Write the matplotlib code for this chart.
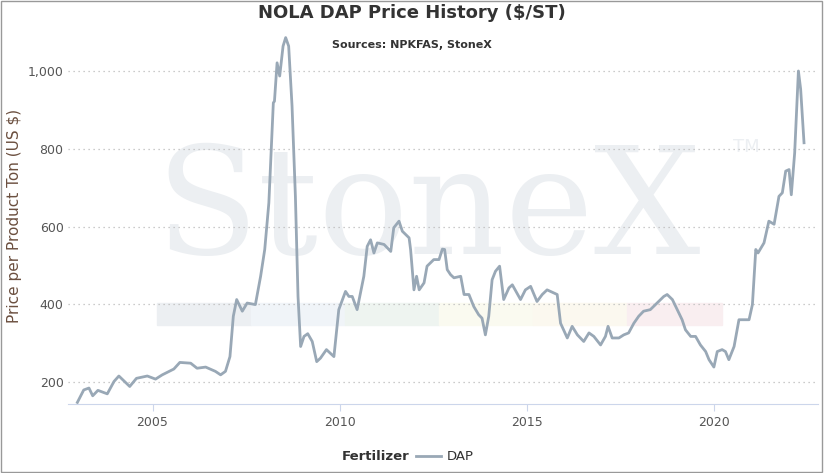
import matplotlib
matplotlib.use('Agg')
import matplotlib.pyplot as plt
from matplotlib.ticker import FuncFormatter
from matplotlib.lines import Line2D

# NOLA DAP price (decimal year, $/ST)
years = [2002.99, 2003.16, 2003.30, 2003.40, 2003.54, 2003.79, 2003.97, 2004.10, 2004.39, 2004.57,
         2004.86, 2005.08, 2005.26, 2005.57, 2005.73, 2006.02, 2006.19, 2006.42, 2006.68, 2006.82,
         2006.95, 2007.07, 2007.16, 2007.25, 2007.40, 2007.53, 2007.75, 2007.89, 2008.00, 2008.11,
         2008.23, 2008.26, 2008.33, 2008.40, 2008.49, 2008.56, 2008.64, 2008.73, 2008.82, 2008.89,
         2008.96, 2009.05, 2009.15, 2009.27, 2009.39, 2009.49, 2009.65, 2009.85, 2009.98, 2010.16,
         2010.25, 2010.34, 2010.47, 2010.65, 2010.74, 2010.83, 2010.92, 2011.01, 2011.19, 2011.37,
         2011.45, 2011.59, 2011.68, 2011.86, 2011.90, 2011.99, 2012.06, 2012.13, 2012.26, 2012.34,
         2012.52, 2012.66, 2012.75, 2012.81, 2012.88, 2012.97, 2013.06, 2013.24, 2013.33, 2013.46,
         2013.59, 2013.72, 2013.81, 2013.90, 2013.99, 2014.08, 2014.17, 2014.28, 2014.39, 2014.53,
         2014.62, 2014.84, 2014.97, 2015.11, 2015.28, 2015.42, 2015.55, 2015.73, 2015.82, 2015.91,
         2016.09, 2016.22, 2016.36, 2016.53, 2016.67, 2016.80, 2016.98, 2017.11, 2017.18, 2017.29,
         2017.47, 2017.60, 2017.73, 2017.87, 2018.00, 2018.13, 2018.31, 2018.49, 2018.67, 2018.76,
         2018.90, 2019.03, 2019.16, 2019.25, 2019.39, 2019.52, 2019.65, 2019.79, 2019.88, 2020.01,
         2020.10, 2020.23, 2020.32, 2020.41, 2020.55, 2020.68, 2020.81, 2020.95, 2021.04, 2021.13,
         2021.19, 2021.35, 2021.48, 2021.62, 2021.75, 2021.84, 2021.93, 2022.02, 2022.08, 2022.17,
         2022.27, 2022.33, 2022.42]
dap = [147, 179, 184, 164, 178, 169, 201, 215, 188, 209,
       215, 207, 218, 233, 250, 248, 235, 238, 227, 218,
       227, 265, 369, 412, 382, 403, 399, 472, 541, 661,
       919, 923, 1022, 988, 1065, 1087, 1065, 911, 678, 420,
       291, 317, 324, 304, 252, 261, 283, 265, 386, 433,
       420, 420, 386, 472, 549, 566, 532, 558, 554, 536,
       597, 614, 588, 571, 541, 437, 472, 437, 455, 498,
       515, 515, 542, 541, 489, 476, 468, 472, 425, 425,
       394, 373, 364, 321, 369, 463, 485, 498, 412, 442,
       450, 412, 437, 446, 407, 425, 437, 429, 425, 351,
       313, 343, 321, 304, 326, 317, 295, 317, 343, 313,
       313, 321, 326, 351, 369, 382, 386, 403, 420, 425,
       412, 386, 360, 334, 317, 317, 295, 278, 257, 238,
       278, 283, 278, 257, 291, 360, 360, 360, 399, 541,
       532, 558, 614, 606, 678, 687, 743, 747, 682, 790,
       1001, 954, 816]

yticks = [200, 400, 600, 800, 1000]
xticks = [2005, 2010, 2015, 2020]
band_colors = ['#eceff2', '#f0f4f8', '#eef4f0', '#fafaf0', '#fbf8ef', '#f9eef0']

fig = plt.figure(figsize=(8.24, 4.73), dpi=100)
ax = fig.add_axes([0.083, 0.146, 0.91, 0.795])
ax.set_zorder(1)
ax.set_facecolor('none')

# watermark behind the axes
fig.text(0.52, 0.55, 'StoneX', fontsize=108, family='DejaVu Serif', color='#eceff2',
         ha='center', va='center', zorder=-2)
fig.text(0.89, 0.69, 'TM', fontsize=13, color='#eceff2', ha='left', va='center', zorder=-2)
bx = 0.19
for c in band_colors:
    fig.patches.append(plt.Rectangle((bx, 0.312), 0.1143, 0.048, transform=fig.transFigure,
                                     color=c, zorder=-2))
    bx += 0.1143

ax.plot(years, dap, color='#99a8b6', lw=2, zorder=3)

ax.set_xlim(2002.75, 2022.8)
ax.set_ylim(143, 1112)
ax.set_yticks(yticks)
ax.set_xticks(xticks)
ax.yaxis.set_major_formatter(FuncFormatter(lambda v, p: f'{int(v):,}'))
ax.grid(axis='y', linestyle=(0, (1, 3)), color='#bbbbbb', lw=0.9)
for s in ['top', 'right', 'left']:
    ax.spines[s].set_visible(False)
ax.spines['bottom'].set_color('#ccd6eb')
ax.tick_params(axis='y', length=0, labelsize=9, labelcolor='#555555')
ax.tick_params(axis='x', length=5, color='#ccd6eb', labelsize=9, labelcolor='#555555')
ax.set_ylabel('Price per Product Ton (US $)', fontsize=11, color='#6b4f3f')

fig.text(0.5, 0.972, 'NOLA DAP Price History ($/ST)', ha='center', va='center',
         fontsize=13, fontweight='bold', color='#333333')
fig.text(0.5, 0.905, 'Sources: NPKFAS, StoneX', ha='center', va='center',
         fontsize=8, fontweight='bold', color='#333333')

# legend
fig.text(0.497, 0.035, 'Fertilizer', ha='right', va='center', fontsize=9.5,
         fontweight='bold', color='#333333')
fig.lines.append(Line2D([0.505, 0.535], [0.035, 0.035], transform=fig.transFigure,
                        color='#99a8b6', lw=2))
fig.text(0.542, 0.035, 'DAP', ha='left', va='center', fontsize=9.5, color='#333333')

fig.patches.append(plt.Rectangle((0.001, 0.002), 0.997, 0.996, transform=fig.transFigure,
                                 fill=False, edgecolor='#999999', lw=1))

fig.savefig('out.png', dpi=100)
